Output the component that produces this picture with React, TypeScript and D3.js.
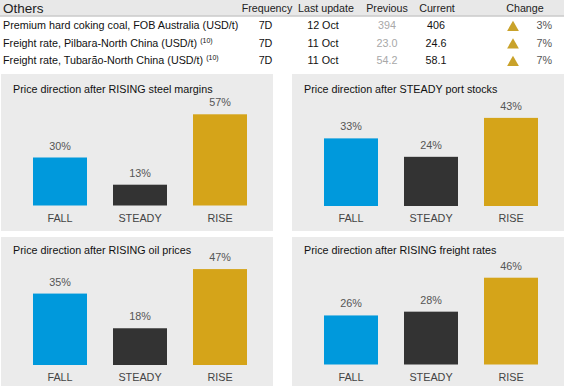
import React from "react";
import * as d3 from "d3";

// table at the top
const tableRows = [
  "Premium hard coking coal, FOB Australia (USD/t)",
  "Freight rate, Pilbara-North China (USD/t)",
  "Freight rate, Tubarão-North China (USD/t)",
];
const tableNotes = ["", "(10)", "(10)"];
const frequency = ["7D", "7D", "7D"];
const lastUpdate = ["12 Oct", "11 Oct", "11 Oct"];
const previous = ["394", "23.0", "54.2"];
const current = ["406", "24.6", "58.1"];
const change = ["3%", "7%", "7%"];

// bar panels
const categories = ["FALL", "STEADY", "RISE"];
const panelTitles = [
  "Price direction after RISING steel margins",
  "Price direction after STEADY port stocks",
  "Price direction after RISING oil prices",
  "Price direction after RISING freight rates",
];
const steelMargins = [30, 13, 57];
const portStocks = [33, 24, 43];
const oilPrices = [35, 18, 47];
const freightRates = [26, 28, 46];
const axisMax = [62.5, 48.8, 49, 53];

const panelValues = [steelMargins, portStocks, oilPrices, freightRates];
const barColors = ["#0099dc", "#333333", "#d5a419"];
const FONT = "Arial, 'Liberation Sans', sans-serif";

const panels = [
  { x: 1, y: 74, w: 272, h: 157, titleY: 93, base: 205.5 },
  { x: 292, y: 74, w: 272, h: 157, titleY: 93, base: 206 },
  { x: 1, y: 237, w: 272, h: 149, titleY: 254, base: 365 },
  { x: 292, y: 237, w: 272, h: 149, titleY: 254, base: 364.5 },
];

function Panel({ idx }: { idx: number }) {
  const p = panels[idx];
  const values = panelValues[idx];
  const plotH = 100;
  const x = d3
    .scaleBand<string>()
    .domain(categories)
    .range([p.x + 19, p.x + 259])
    .paddingInner(0.325)
    .paddingOuter(0.1625);
  const y = d3.scaleLinear().domain([0, axisMax[idx]]).range([p.base, p.base - plotH]);

  return (
    <g>
      <rect x={p.x} y={p.y} width={p.w} height={p.h} fill="#ebebeb" />
      <text x={p.x + 12} y={p.titleY} fontSize={10.75} fill="#111">
        {panelTitles[idx]}
      </text>
      {categories.map((c, i) => (
        <g key={c}>
          <rect
            x={x(c)}
            y={y(values[i])}
            width={x.bandwidth()}
            height={p.base - y(values[i])}
            fill={barColors[i]}
          />
          <text
            x={(x(c) as number) + x.bandwidth() / 2}
            y={y(values[i]) - 8}
            textAnchor="middle"
            fontSize={10.8}
            fill="#555"
          >
            {values[i]}%
          </text>
          <text
            x={(x(c) as number) + x.bandwidth() / 2}
            y={p.base + 16}
            textAnchor="middle"
            fontSize={10.8}
            fill="#444"
          >
            {c}
          </text>
        </g>
      ))}
    </g>
  );
}

export default function App() {
  const rowY = [29, 46.5, 64];
  const tri = d3.symbol(d3.symbolTriangle, 60)();

  return (
    <div style={{ position: "fixed", left: 0, top: 0 }}>
      <svg width={564} height={386} fontFamily={FONT} style={{ display: "block", background: "#fff" }}>
        {/* header */}
        <rect x={0} y={0} width={564} height={15.5} fill="#e8e8e8" />
        <line x1={0} x2={564} y1={16} y2={16} stroke="#b0b0b0" strokeWidth={1} />
        <text x={3} y={13} fontSize={13.5} fill="#222">Others</text>
        <g fontSize={10.7} fill="#222" textAnchor="middle">
          <text x={267} y={12}>Frequency</text>
          <text x={326} y={12}>Last update</text>
          <text x={387} y={12}>Previous</text>
          <text x={437} y={12}>Current</text>
          <text x={525} y={12}>Change</text>
        </g>
        {tableRows.map((r, i) => (
          <g key={r} fontSize={10.75}>
            <text x={3} y={rowY[i]} fill="#111">
              {r}
              {tableNotes[i] && (
                <tspan fontSize={7} dx={3} dy={-4}>
                  {tableNotes[i]}
                </tspan>
              )}
            </text>
            <text x={265.5} y={rowY[i]} textAnchor="middle" fill="#111">{frequency[i]}</text>
            <text x={323} y={rowY[i]} textAnchor="middle" fill="#111">{lastUpdate[i]}</text>
            <text x={387} y={rowY[i]} textAnchor="middle" fill="#a8a8a8">{previous[i]}</text>
            <text x={436} y={rowY[i]} textAnchor="middle" fill="#111">{current[i]}</text>
            <path d={tri as string} transform={`translate(513,${rowY[i] - 1.5})`} fill="#c9a22a" />
            <text x={552} y={rowY[i]} textAnchor="end" fill="#555">{change[i]}</text>
          </g>
        ))}
        {panels.map((_, i) => (
          <Panel key={i} idx={i} />
        ))}
      </svg>
    </div>
  );
}
